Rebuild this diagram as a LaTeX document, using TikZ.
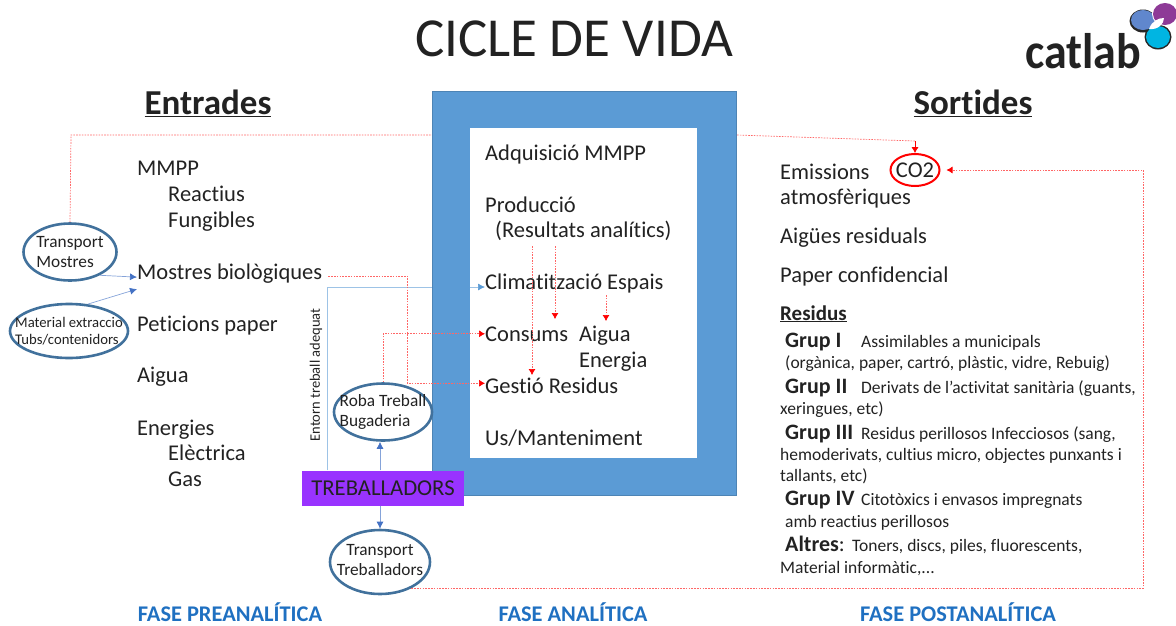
\documentclass[tikz,border=0pt]{standalone}
\usepackage{fontspec}
\setmainfont[Ligatures=NoCommon]{Carlito}
\usetikzlibrary{arrows.meta,shapes.geometric}
\definecolor{framblue}{HTML}{5B9BD5}
\definecolor{ovalblue}{HTML}{41719C}
\definecolor{fasblue}{HTML}{1F70C1}
\definecolor{arrowblue}{HTML}{4472C4}
\definecolor{linkblue}{HTML}{9DC3E6}
\definecolor{workpurple}{HTML}{9933FF}
\definecolor{textgray}{HTML}{222222}
\definecolor{logopurple}{HTML}{8E3A97}
\definecolor{logocyan}{HTML}{00B5E2}
\newcommand{\fsz}[1]{\fontsize{#1}{#1}\selectfont}
\newcommand{\grup}[2][76pt]{\makebox[#1][l]{\fsz{22}\textbf{#2}}}

\begin{document}
\begin{tikzpicture}[
  x=1pt, y=-1pt,
  every node/.style={inner sep=0pt, text=textgray},
  txt/.style={anchor=base west, yshift=-7pt, font=\fsz{22.5}},
  restxt/.style={anchor=base west, yshift=-6pt, font=\fsz{17.5}},
  fase/.style={font=\fsz{22.4}\bfseries, text=fasblue},
  oval/.style={draw=ovalblue, line width=2.6pt, ellipse, fill=white},
  ovaltxt/.style={align=left, font=\fsz{17.3}},
  reddot/.style={draw=red!60, line width=0.7pt, dash pattern=on 1.6pt off 1.2pt},
  redarrow/.style={reddot, -{Latex[length=6pt,width=7pt,color=red]}},
  bluearrow/.style={draw=arrowblue!65, line width=0.7pt, -{Latex[length=7pt,width=7pt,color=arrowblue]}}
]
\useasboundingbox (0,0) rectangle (1176,625);

% titles
\node (title) at (574,39) {\fsz{55}CICLE DE VIDA};
\node (entrades) at (208,103) {\fsz{35}\bfseries\underline{Entrades}};
\node (sortides) at (973,103) {\fsz{35}\bfseries\underline{Sortides}};

% logo
\fill[black!85] (1143,21) ellipse [x radius=13.5, y radius=11.5];
\fill[black!85] (1158,37) ellipse [x radius=13.5, y radius=12.5];
\fill[arrowblue!85] (1143,20) ellipse [x radius=12, y radius=10];
\fill[white] (1165,14) ellipse [x radius=13, y radius=12];
\fill[logopurple] (1165,14) ellipse [x radius=12, y radius=11];
\fill[logocyan] (1158,37) ellipse [x radius=12, y radius=11];
\fill[white] (1149,29) .. controls (1152,21) and (1158,18) .. (1164,18) .. controls (1164,24) and (1158,30) .. (1149,29);
\node[xscale=.92] (catlab) at (1083,51) {\fsz{50}\bfseries catlab};

% connexions que passen per darrere del marc
\node[oval, minimum width=93pt, minimum height=57pt] (transmostres) at (70,252) {};
\node[oval, draw=red, line width=2pt, minimum width=49pt, minimum height=32pt] (co2) at (915,170) {};
\coordinate (topleft) at (71,135);
\coordinate (topbend) at (737,135);
\coordinate (topright) at (915,141);
\draw[reddot] (transmostres.north) -- (topleft) -- (topbend) -- (topright);
\draw[draw=red, -{Latex[length=6pt,width=7pt]}] (topright) -- (co2.north);

% marc central
\node[draw=framblue!85!black, line width=0.5pt, fill=framblue, minimum width=304pt, minimum height=404pt] (marc) at (584,293) {};
\node[fill=white, minimum width=227pt, minimum height=330pt] (central) at (583.5,293) {};

\node[txt] (adquisicio) at (485,153) {Adquisició MMPP};
\node[txt] (produccio) at (485,205) {Producció};
\node[txt] (resultats) at (495,230) {(Resultats analítics)};
\node[txt] (clima) at (485,282) {Climatització Espais};
\node[txt] (consums) at (485,334) {Consums};
\node[txt] (aigua) at (579,334) {Aigua};
\node[txt] (energia) at (579,360) {Energia};
\node[txt] (gestio) at (485,386) {Gestió Residus};
\node[txt] (manteniment) at (485,438) {Us/Manteniment};

% entrades
\node[txt] (mmpp) at (137,168) {MMPP};
\node[txt] (reactius) at (168,194) {Reactius};
\node[txt] (fungibles) at (168,220) {Fungibles};
\node[txt] (mostres) at (137,272) {Mostres biològiques};
\node[txt] (peticions) at (137,324) {Peticions paper};
\node[txt] (aiguain) at (137,375) {Aigua};
\node[txt] (energies) at (137,428) {Energies};
\node[txt] (electrica) at (168,453) {Elèctrica};
\node[txt] (gas) at (168,479) {Gas};

% sortides
\node[txt] (emissions) at (780,172) {Emissions};
\node[txt] (atmos) at (780,197) {atmosfèriques};
\node[txt] (aigues) at (780,236) {Aigües residuals};
\node[txt] (paper) at (780,275) {Paper confidencial};
\node[anchor=base west, yshift=-6pt, font=\fsz{21}\bfseries] (residus) at (780,314) {\underline{Residus}};
\node[font=\fsz{22.5}] (co2txt) at (co2) {CO2};

% residus
\node[restxt] (grup1) at (785,341) {\grup{Grup I}Assimilables a municipals};
\node[restxt] (grup1b) at (785,362) {(orgànica, paper, cartró, plàstic, vidre, Rebuig)};
\node[restxt] (grup2) at (785,387) {\grup{Grup II}Derivats de l’activitat sanitària (guants,};
\node[restxt] (grup2b) at (780,408) {xeringues, etc)};
\node[restxt] (grup3) at (785,433) {\grup{Grup III}Residus perillosos Infecciosos (sang,};
\node[restxt] (grup3b) at (780,454) {hemoderivats, cultius micro, objectes punxants i};
\node[restxt] (grup3c) at (780,475) {tallants, etc)};
\node[restxt] (grup4) at (785,499) {\grup{Grup IV}Citotòxics i envasos impregnats};
\node[restxt] (grup4b) at (785,521) {amb reactius perillosos};
\node[restxt] (altres) at (785,545) {\grup[67pt]{Altres\textmd{:}}Toners, discs, piles, fluorescents,};
\node[restxt] (altresb) at (780,567) {Material informàtic,...};

% el·lipses i treballadors
\node[ovaltxt] (transmostrestxt) at (70,252) {Transport\\[2pt]Mostres};
\node[oval, minimum width=118pt, minimum height=54pt] (material) at (69,331) {};
\node[ovaltxt, font=\fsz{14.7}] (materialtxt) at (69,331) {Material extraccio\\[2pt]Tubs/contenidors};
\node[oval, minimum width=98pt, minimum height=57pt] (roba) at (383,412) {};
\node[ovaltxt] (robatxt) at (383,412) {Roba Treball\\[3pt]Bugaderia};
\node[oval, minimum width=100pt, minimum height=64pt] (transtreb) at (380,562) {};
\node[ovaltxt, align=center] (transtrebtxt) at (380,560) {Transport\\[3pt]Treballadors};
\node[fill=workpurple, font=\fsz{22.7}, minimum width=162pt, minimum height=35pt] (treb) at (383,488) {TREBALLADORS};
\node[rotate=90, font=\fsz{14.5}] (entorn) at (316,375) {Entorn treball adequat};

% fases
\node[fase] (preana) at (230,612) {FASE PREANALÍTICA};
\node[fase] (ana) at (573,612) {FASE ANALÍTICA};
\node[fase] (postana) at (958,612) {FASE POSTANALÍTICA};

% fletxes blaves
\draw[bluearrow] (transmostres.-38) -- ([yshift=-4pt]mostres.west);
\draw[bluearrow] (material.55) -- ([yshift=-16pt]mostres.west);
\draw[bluearrow] (treb.north -| transtreb) -- (transtreb |- roba.south);
\draw[bluearrow] (treb.south -| transtreb) -- (transtreb.north);
\coordinate (blauup) at (327,287);
\draw[draw=linkblue, line width=0.7pt] (treb.north -| blauup) -- (blauup) -- (blauup -| marc.west);
\draw[draw=linkblue, line width=0.7pt, -{Latex[length=7pt,width=7pt,color=framblue]}] (blauup -| central.west) -- (blauup -| clima.west);

% fletxes vermelles
\draw[redarrow] ([xshift=6pt,yshift=-3pt]mostres.east) -- ++(79,0) |- ([yshift=2pt]gestio.west);
\draw[redarrow] (roba.north) |- (consums.west);
\draw[redarrow] (532,246) -- (532,375);
\draw[redarrow] (555,246) -- (555,319);
\draw[redarrow] (606,295) -- (606,321);
\coordinate (botright) at (1143,588);
\draw[redarrow] (transtreb.-40) -- (transtreb.-40 -| botright) -- (botright |- co2) -- ([xshift=6pt]co2.east);
\end{tikzpicture}
\end{document}
